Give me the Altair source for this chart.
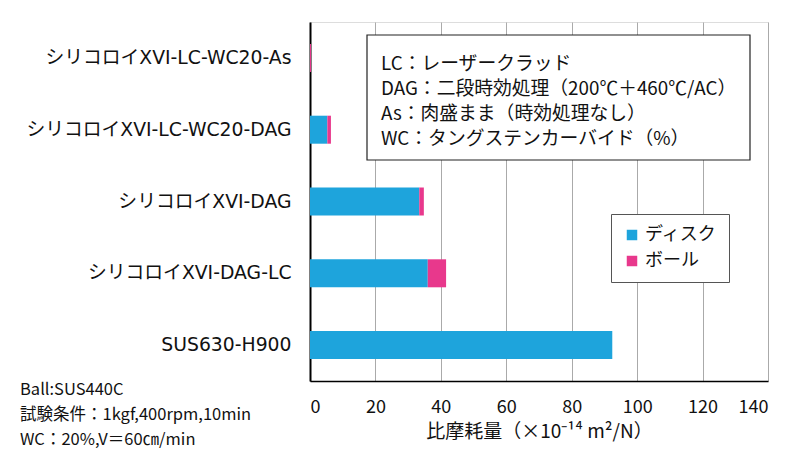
import altair as alt
import pandas as pd

categories = ["シリコロイXVI-LC-WC20-As", "シリコロイXVI-LC-WC20-DAG", "シリコロイXVI-DAG",
              "シリコロイXVI-DAG-LC", "SUS630-H900"]
disc = [0.0, 5.3, 33.4, 36.0, 92.4]
ball = [0.3, 1.1, 1.4, 5.6, 0.0]
series = ["ディスク", "ボール"]
colors = ["#1ea4dc", "#e8388c"]
x_ticks = [0, 20, 40, 60, 80, 100, 120, 140]
note_lines = ["LC：レーザークラッド", "DAG：二段時効処理（200℃＋460℃/AC）",
              "As：肉盛まま（時効処理なし）", "WC：タングステンカーバイド（%）"]
cond_lines = ["Ball:SUS440C", "試験条件：1kgf,400rpm,10min", "WC：20%,V＝60㎝/min"]

FONT = "Noto Sans CJK JP"
WIDE = "DejaVu Sans, Noto Sans CJK JP"

rows = []
for c, d, b in zip(categories, disc, ball):
    rows.append({"cat": c, "series": series[0], "val": d, "ord": 0})
    rows.append({"cat": c, "series": series[1], "val": b, "ord": 1})
df = pd.DataFrame(rows)

bars = alt.Chart(df).mark_bar(size=28).encode(
    y=alt.Y("cat:N", sort=categories, title=None,
            axis=alt.Axis(ticks=False, labelPadding=19, labelFontSize=18.8, labelFont=WIDE,
                          labelColor="#111", domainColor="#000", domainWidth=2, grid=False,
                          labelLimit=400)),
    x=alt.X("val:Q", stack="zero", scale=alt.Scale(domain=[0, 140], nice=False),
            title="比摩耗量（×10⁻¹⁴ m²/N）",
            axis=alt.Axis(values=x_ticks, ticks=False, labelPadding=17, labelFontSize=18,
                          labelFont=FONT, labelColor="#111", domainColor="#000", domainWidth=1.5,
                          grid=True, gridColor="#aaaaaa", gridWidth=1,
                          titleFont=FONT, titleFontSize=19, titleFontWeight="normal",
                          titleColor="#111", titlePadding=6)),
    color=alt.Color("series:N", scale=alt.Scale(domain=series, range=colors), title=None,
                    legend=alt.Legend(orient="none", legendX=301, legendY=192,
                                      strokeColor="#555", padding=12, symbolType="square",
                                      symbolSize=110, symbolStrokeWidth=0,
                                      labelFont=FONT, labelFontSize=18, labelColor="#111",
                                      rowPadding=8, fillColor="white")),
    order=alt.Order("ord:Q"),
)

box = alt.Chart(pd.DataFrame({"a": [0]})).mark_rect(
    fill="white", stroke="#222", strokeWidth=1.2).encode(
    x=alt.value(57), x2=alt.value(440), y=alt.value(13), y2=alt.value(138))

notes = alt.Chart(pd.DataFrame({"t": ["\n".join(note_lines)]})).mark_text(
    align="left", baseline="middle", font=FONT, fontSize=18.8, lineHeight=25,
    lineBreak="\n", color="#111").encode(
    x=alt.value(71), y=alt.value(42), text="t:N")

conds = alt.Chart(pd.DataFrame({"t": ["\n".join(cond_lines)]})).mark_text(
    align="left", baseline="middle", font=FONT, fontSize=16.5, lineHeight=25,
    lineBreak="\n", color="#111").encode(
    x=alt.value(-290), y=alt.value(368), text="t:N")

chart = alt.layer(bars, box, notes, conds).properties(
    width=458, height=359,
    autosize=alt.AutoSizeParams(type="none"),
    padding={"left": 302, "top": 14, "right": 32, "bottom": 87},
).configure_view(stroke="#666", strokeWidth=1.5).configure(background="white")

chart.save("out.html", embed_options={"renderer": "svg", "actions": False})
